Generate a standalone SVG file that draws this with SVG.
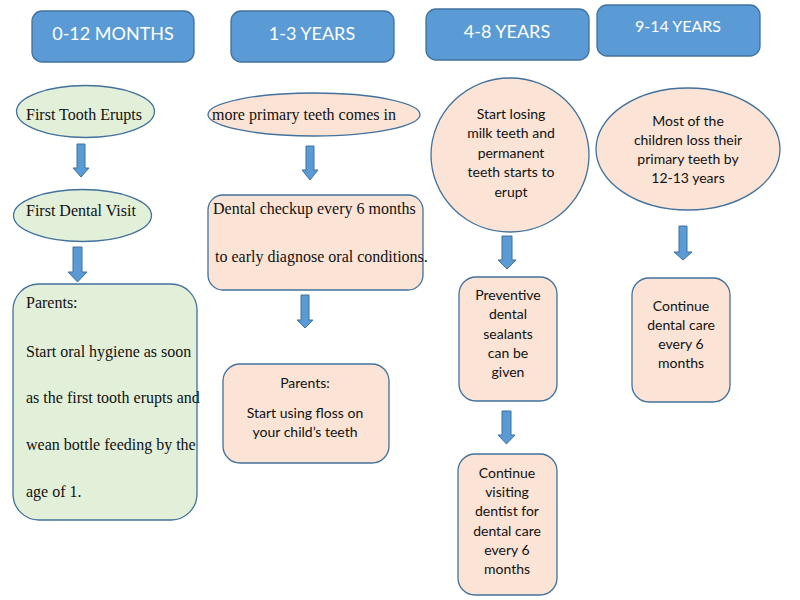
<svg xmlns="http://www.w3.org/2000/svg" width="800" height="600" viewBox="0 0 800 600">
<defs>
<style>
.hdr{fill:#5B9BD5;stroke:#41719C;stroke-width:1.3}
.ht{fill:#fff;font-family:"Lato","Open Sans",sans-serif;font-size:18px;text-anchor:middle}
.g{fill:#E2EFD9;stroke:#41719C;stroke-width:1.3}
.p{fill:#FBE4D5;stroke:#41719C;stroke-width:1.3}
.sr{fill:#111;font-family:"Liberation Serif","Times New Roman",serif;font-size:16px}
.ss{fill:#111;font-family:"Lato","Open Sans",sans-serif;font-size:14px;text-anchor:middle}
.arr{fill:#5B9BD5;stroke:#41719C;stroke-width:1}
</style>
</defs>
<rect width="800" height="600" fill="#fff"/>
<g id="h1"><rect class="hdr" x="32" y="11" width="162" height="51" rx="10"/><text class="ht" x="113" y="39.5">0-12 MONTHS</text></g>
<g id="h2"><rect class="hdr" x="231" y="11" width="163" height="51" rx="10"/><text class="ht" x="312" y="39.5">1-3 YEARS</text></g>
<g id="h3"><rect class="hdr" x="426" y="9" width="163" height="51" rx="10"/><text class="ht" x="507" y="38">4-8 YEARS</text></g>
<g id="h4"><rect class="hdr" x="597" y="5" width="163" height="51" rx="10"/><text class="ht" x="678" y="32" style="font-size:16px">9-14 YEARS</text></g>

<g id="n1"><ellipse class="g" cx="85.5" cy="111.5" rx="69" ry="26"/><text class="sr" x="26" y="120">First Tooth Erupts</text></g>
<g id="n2"><ellipse class="g" cx="82.5" cy="215.5" rx="69" ry="26"/><text class="sr" x="26" y="216">First Dental Visit</text></g>
<g id="n3"><rect class="g" x="13" y="284" width="184" height="236" rx="26"/>
<text class="sr" x="26" y="308">Parents:</text>
<text class="sr" x="26" y="357">Start oral hygiene as soon</text>
<text class="sr" x="26" y="403">as the first tooth erupts and</text>
<text class="sr" x="26" y="450">wean bottle feeding by the</text>
<text class="sr" x="26" y="497">age of 1.</text></g>

<g id="n4"><ellipse class="p" cx="314" cy="114.5" rx="106" ry="21.5"/><text class="sr" x="212" y="120">more primary teeth comes in</text></g>
<g id="n5"><rect class="p" x="208" y="195" width="215" height="95" rx="15"/>
<text class="sr" x="213" y="214">Dental checkup every 6 months</text>
<text class="sr" x="215" y="262">to early diagnose oral conditions.</text></g>
<g id="n6"><rect class="p" x="223" y="364" width="166" height="99" rx="17"/>
<text class="ss" x="305" y="388">Parents:</text>
<text class="ss" x="305" y="418">Start using floss on</text>
<text class="ss" x="305" y="437">your child’s teeth</text></g>

<g id="n7"><ellipse class="p" cx="510" cy="155" rx="79" ry="77"/>
<text class="ss" x="511" y="119">Start losing</text>
<text class="ss" x="511" y="138">milk teeth and</text>
<text class="ss" x="511" y="158">permanent</text>
<text class="ss" x="511" y="177">teeth starts to</text>
<text class="ss" x="511" y="197">erupt</text></g>
<g id="n8"><rect class="p" x="459" y="277" width="98" height="124" rx="17"/>
<text class="ss" x="508" y="300">Preventive</text>
<text class="ss" x="508" y="319">dental</text>
<text class="ss" x="508" y="339">sealants</text>
<text class="ss" x="508" y="358">can be</text>
<text class="ss" x="508" y="377">given</text></g>
<g id="n9"><rect class="p" x="458" y="454" width="99" height="141" rx="17"/>
<text class="ss" x="507" y="478">Continue</text>
<text class="ss" x="507" y="497">visiting</text>
<text class="ss" x="507" y="516">dentist for</text>
<text class="ss" x="507" y="536">dental care</text>
<text class="ss" x="507" y="555">every 6</text>
<text class="ss" x="507" y="574">months</text></g>

<g id="n10"><ellipse class="p" cx="688" cy="149" rx="92" ry="61"/>
<text class="ss" x="688" y="126">Most of the</text>
<text class="ss" x="688" y="145">children loss their</text>
<text class="ss" x="688" y="164">primary teeth by</text>
<text class="ss" x="688" y="183">12-13 years</text></g>
<g id="n11"><rect class="p" x="632" y="278" width="98" height="124" rx="17"/>
<text class="ss" x="681" y="311">Continue</text>
<text class="ss" x="681" y="330">dental care</text>
<text class="ss" x="681" y="349">every 6</text>
<text class="ss" x="681" y="368">months</text></g>

<g id="connectors">
<polygon class="arr" points="77,144 85,144 85,168 89,168 81,177 73,168 77,168"/>
<polygon class="arr" points="73,247 82,247 82,272 87,272 77.5,282 68,272 73,272"/>
<polygon class="arr" points="306,146 314,146 314,170 318,170 310,180 302,170 306,170"/>
<polygon class="arr" points="301,295 309,295 309,320 313,320 305,328 297,320 301,320"/>
<polygon class="arr" points="502,236 512,236 512,260 516,260 507,269 498,260 502,260"/>
<polygon class="arr" points="502,411 511,411 511,435 515,435 506.5,444 498,435 502,435"/>
<polygon class="arr" points="679,226 687,226 687,252 692,252 683,260 674,252 679,252"/>
</g>
</svg>
